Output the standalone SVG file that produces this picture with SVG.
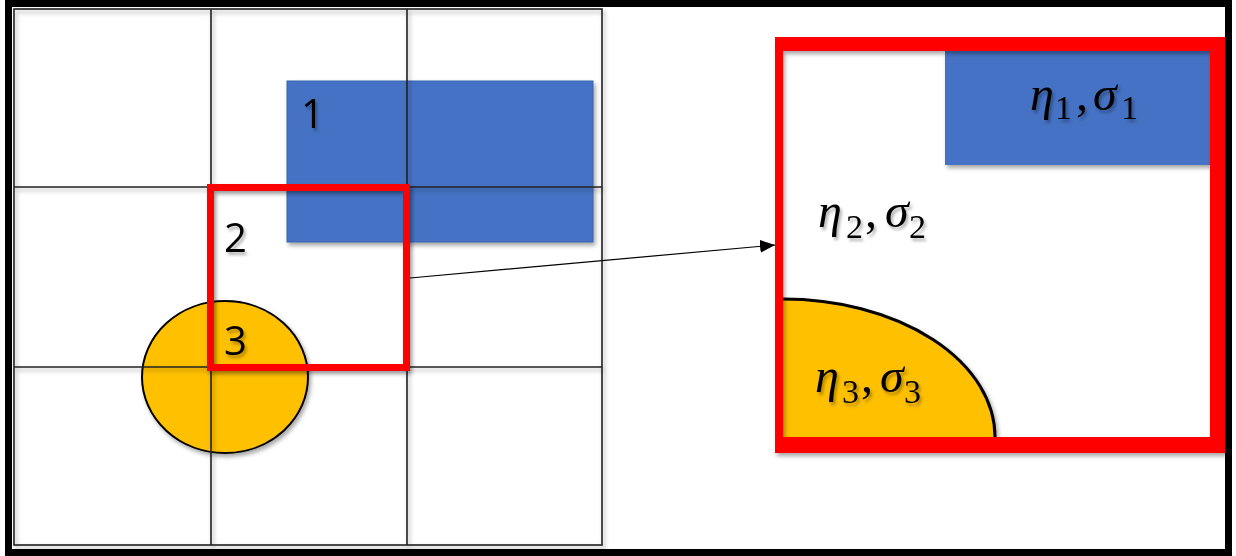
<svg xmlns="http://www.w3.org/2000/svg" width="1236" height="556" viewBox="0 0 1236 556">
  <style>
    .grid { stroke: #222; stroke-width: 1.6; fill: none; }
    .blue { fill: #4472C4; }
    .gold { fill: #FFC000; }
    .num { font-family: "Open Sans", "Liberation Sans", sans-serif; font-size: 40px; fill: #000; }
    .math { font-family: "Liberation Serif", "DejaVu Serif", serif; font-size: 48px; fill: #000; }
    .it { font-style: italic; }
    .sub { font-size: 34px; font-style: normal; }
  </style>
  <defs>
    <filter id="sh" x="-10%" y="-10%" width="130%" height="130%">
      <feDropShadow dx="2" dy="3" stdDeviation="2" flood-color="#000" flood-opacity="0.35"/>
    </filter>
    <filter id="tsh" x="-10%" y="-10%" width="130%" height="140%">
      <feDropShadow dx="2" dy="3" stdDeviation="1.5" flood-color="#000" flood-opacity="0.3"/>
    </filter>
    <marker id="arr" markerUnits="userSpaceOnUse" markerWidth="16" markerHeight="14" refX="15" refY="6.5" orient="auto">
      <path d="M0,0 L15,6.5 L0,13 Z" fill="#000"/>
    </marker>
  </defs>

  <rect x="0" y="0" width="1236" height="556" fill="#fff"/>

  <!-- left panel -->
  <g id="region1" filter="url(#sh)">
    <rect class="blue" x="287" y="81" width="306" height="161" stroke="#3862ad" stroke-width="1"/>
  </g>
  <g id="region3" filter="url(#sh)">
    <ellipse class="gold" cx="225" cy="377" rx="83" ry="76" stroke="#000" stroke-width="2"/>
  </g>
  <g id="grid" filter="url(#sh)">
    <rect class="grid" x="14" y="9" width="588" height="536"/>
    <line class="grid" x1="211" y1="9" x2="211" y2="545"/>
    <line class="grid" x1="407" y1="9" x2="407" y2="545"/>
    <line class="grid" x1="14" y1="187" x2="602" y2="187"/>
    <line class="grid" x1="14" y1="367" x2="602" y2="367"/>
  </g>
  <g id="zoomWindow" filter="url(#sh)">
    <rect x="210.5" y="187.5" width="196" height="180" fill="none" stroke="#FF0000" stroke-width="7"/>
  </g>
  <g id="labels" filter="url(#tsh)">
    <text class="num" x="301" y="128">1</text>
    <text class="num" x="224" y="252">2</text>
    <text class="num" x="224" y="355">3</text>
  </g>

  <!-- connector -->
  <g id="connectors">
    <line x1="410" y1="278" x2="775" y2="245" stroke="#000" stroke-width="1.2" marker-end="url(#arr)"/>
  </g>

  <!-- right panel (magnified) -->
  <g id="magnified">
    <g id="mag-region1" filter="url(#sh)">
      <rect class="blue" x="945" y="51" width="265" height="114"/>
    </g>
    <g id="mag-region3" filter="url(#sh)">
      <path class="gold" d="M783,299 A212,138 0 0 1 995,437 L783,437 Z"/>
      <path d="M783,299 A212,138 0 0 1 995,437" fill="none" stroke="#000" stroke-width="3"/>
    </g>
    <g id="mag-frame" filter="url(#sh)">
      <path fill="#FF0000" fill-rule="evenodd" d="M775,37 H1225 V453 H775 Z M783,51 V437 H1210 V51 Z"/>
    </g>
    <g id="mag-labels" filter="url(#tsh)">
      <text class="math">
        <tspan class="it" x="1030" y="110">η</tspan><tspan class="sub" x="1055" y="119">1</tspan><tspan x="1076" y="110">,</tspan><tspan class="it" x="1093" y="110">σ</tspan><tspan class="sub" x="1121" y="119">1</tspan>
      </text>
      <text class="math">
        <tspan class="it" x="818" y="227">η</tspan><tspan class="sub" x="846" y="238">2</tspan><tspan x="865" y="227">,</tspan><tspan class="it" x="885" y="227">σ</tspan><tspan class="sub" x="909" y="238">2</tspan>
      </text>
      <text class="math">
        <tspan class="it" x="815" y="392">η</tspan><tspan class="sub" x="842" y="403">3</tspan><tspan x="861" y="392">,</tspan><tspan class="it" x="880" y="392">σ</tspan><tspan class="sub" x="904" y="403">3</tspan>
      </text>
    </g>
  </g>

  <!-- outer frame -->
  <rect x="8.5" y="3.5" width="1220" height="549" fill="none" stroke="#000" stroke-width="7"/>
</svg>
